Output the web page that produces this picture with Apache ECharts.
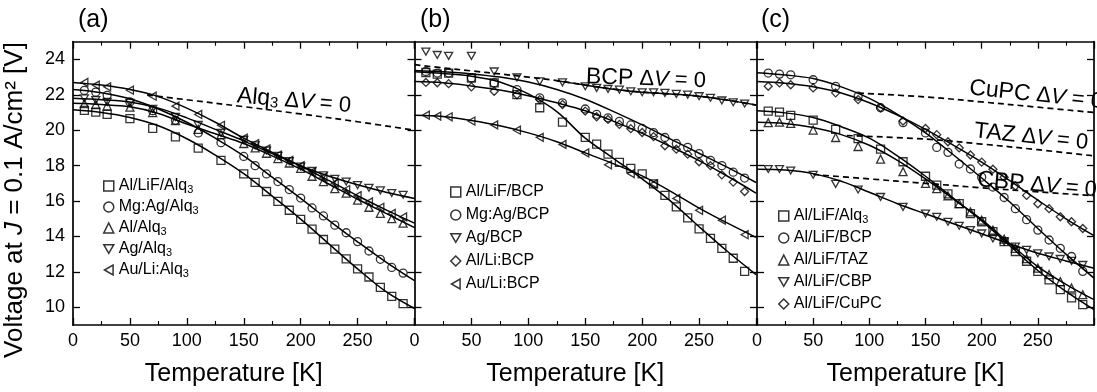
<!DOCTYPE html>
<html><head><meta charset="utf-8">
<script src="https://cdn.jsdelivr.net/npm/echarts@6/dist/echarts.min.js"></script>
<style>html,body{margin:0;padding:0;background:#fff}#c{width:1097px;height:392px}</style>
</head><body><div id="c"></div>
<script>
// ---------- data ----------
const X_TICKS = [0, 50, 100, 150, 200, 250];
const Y_TICKS = [10, 12, 14, 16, 18, 20, 22, 24];
const T_FIT = [0, 25, 50, 75, 100, 125, 150, 175, 200, 225, 250, 275, 300];
const T_PTS = [10, 20, 30, 50, 70, 90, 110, 130, 150, 160, 170, 180, 190, 200, 210, 220, 230, 240, 250, 260, 270, 280, 290];

// panel (a)
const A_NAMES = ['Al/LiF/Alq3', 'Mg:Ag/Alq3', 'Al/Alq3', 'Ag/Alq3', 'Au/Li:Alq3'];
const A_PTS_AlLiF = [21.12, 21.02, 20.89, 20.65, 20.11, 19.62, 18.99, 18.30, 17.53, 17.05, 16.54, 15.98, 15.48, 14.96, 14.41, 13.83, 13.29, 12.73, 12.17, 11.71, 11.13, 10.62, 10.21];
const A_FIT_AlLiF = [21.15, 21.0, 20.72, 20.25, 19.52, 18.6, 17.55, 16.28, 14.98, 13.57, 12.17, 10.88, 9.93];
const A_PTS_MgAg = [22.25, 22.15, 21.97, 21.6, 21.1, 20.56, 19.85, 19.3, 18.52, 18.0, 17.53, 17.1, 16.65, 16.17, 15.61, 15.16, 14.64, 14.21, 13.71, 13.18, 12.71, 12.25, 11.93];
const A_FIT_MgAg = [22.3, 22.12, 21.78, 21.2, 20.45, 19.55, 18.55, 17.35, 16.15, 14.9, 13.7, 12.55, 11.5];
const A_PTS_Al = [21.5, 21.45, 21.38, 21.3, 21.0, 20.55, 20.05, 19.75, 19.25, 19.0, 18.7, 18.4, 18.15, 17.85, 17.4, 17.1, 16.7, 16.45, 16.05, 15.65, 15.3, 15.01, 14.75];
const A_FIT_Al = [21.52, 21.45, 21.32, 20.95, 20.35, 19.8, 19.25, 18.55, 17.8, 16.95, 16.1, 15.3, 14.5];
const A_PTS_Ag = [21.8, 21.7, 21.6, 21.55, 21.2, 20.75, 20.3, 19.85, 19.45, 19.15, 18.85, 18.55, 18.25, 17.95, 17.7, 17.45, 17.25, 17.1, 16.9, 16.75, 16.6, 16.45, 16.35];
const A_FIT_Ag = [21.8, 21.72, 21.6, 21.25, 20.7, 20.05, 19.4, 18.68, 17.98, 17.4, 16.92, 16.5, 16.15];
const A_PTS_AuLi = [22.7, 22.55, 22.45, 22.26, 21.92, 21.36, 20.89, 20.28, 19.55, 19.25, 18.95, 18.6, 18.3, 18.0, 17.65, 17.35, 17.0, 16.65, 16.3, 15.95, 15.65, 15.3, 15.1];
const A_FIT_AuLi = [22.7, 22.55, 22.3, 21.9, 21.25, 20.45, 19.55, 18.75, 17.98, 17.15, 16.3, 15.5, 14.75];
const A_DASH_T = [65, 100, 150, 200, 250, 300];
const A_DASH_V = [22.0, 21.72, 21.33, 20.92, 20.48, 20.0];

// panel (b)
const B_NAMES = ['Al/LiF/BCP', 'Mg:Ag/BCP', 'Ag/BCP', 'Al/Li:BCP', 'Au/Li:BCP'];
const B_PTS_AlLiF = [23.26, 23.17, 23.23, 22.95, 22.67, 22.01, 21.27, 20.46, 19.6, 19.21, 18.65, 18.19, 17.85, 17.53, 16.97, 16.32, 15.67, 15.05, 14.43, 13.89, 13.33, 12.77, 12.03];
const B_FIT_AlLiF = [23.3, 23.2, 23.05, 22.72, 22.05, 21.05, 19.55, 18.4, 17.25, 16.0, 14.55, 13.15, 11.85];
const B_PTS_MgAg = [23.32, 23.23, 23.23, 22.95, 22.67, 22.29, 21.83, 21.55, 21.2, 20.9, 20.7, 20.5, 20.3, 20.1, 19.87, 19.59, 19.25, 19.03, 18.68, 18.3, 18.0, 17.63, 17.3];
const B_FIT_MgAg = [23.38, 23.3, 23.18, 23.0, 22.72, 22.3, 21.75, 21.05, 20.3, 19.5, 18.7, 17.9, 17.05];
const B_PTS_Ag = [24.44, 24.25, 24.2, 24.2, 23.32, 22.98, 22.76, 22.7, 22.48, 22.39, 22.33, 22.29, 22.2, 22.14, 22.14, 22.11, 22.05, 22.01, 21.92, 21.83, 21.68, 21.58, 21.51];
const B_FIT_Ag = [null, null, null, null, null, 22.8, 22.55, 22.32, 22.15, 22.05, 21.92, 21.7, 21.42];
const B_PTS_AlLi = [22.7, 22.68, 22.63, 22.45, 22.2, 22.0, 21.73, 21.45, 21.08, 20.76, 20.61, 20.33, 20.09, 19.87, 19.64, 19.12, 18.93, 18.65, 18.22, 18.0, 17.48, 17.07, 16.54];
const B_FIT_AlLi = [22.75, 22.68, 22.5, 22.27, 21.95, 21.55, 21.1, 20.5, 19.82, 19.08, 18.28, 17.4, 16.45];
const B_PTS_AuLi = [20.85, 20.8, 20.76, 20.52, 20.3, 20.0, 19.6, 19.2, 18.72, null, 18.05, null, 17.55, null, 16.97, null, 16.15, null, 15.48, null, 14.92, null, 14.1];
const B_FIT_AuLi = [20.85, 20.78, 20.55, 20.25, 19.85, 19.35, 18.72, 18.1, 17.42, 16.55, 15.6, 14.75, 13.95];
const B_DASH_T = [0, 25, 50, 75, 100, 125, 150, 175, 200, 225, 250, 275, 300];
const B_DASH_V = [23.7, 23.52, 23.35, 23.18, 23.0, 22.8, 22.55, 22.32, 22.15, 22.05, 21.92, 21.7, 21.42];

// panel (c)
const C_NAMES = ['Al/LiF/Alq3', 'Al/LiF/BCP', 'Al/LiF/TAZ', 'Al/LiF/CBP', 'Al/LiF/CuPC'];
const C_PTS_Alq = [21.08, 21.02, 20.84, 20.57, 20.05, 19.53, 18.93, 18.22, 17.4, 16.9, 16.41, 15.85, 15.29, 14.83, 14.27, 13.71, 13.15, 12.6, 12.03, 11.55, 11.0, 10.53, 10.15];
const C_FIT_Alq = [21.1, 20.98, 20.72, 20.2, 19.55, 18.55, 17.4, 16.15, 14.88, 13.48, 12.08, 10.9, 9.87];
const C_PTS_BCP = [23.23, 23.17, 23.13, 22.85, 22.48, 21.92, 21.27, 20.43, 19.85, 19.03, 18.75, 18.09, 17.81, 17.35, 16.79, 16.2, 15.57, 14.95, 14.36, 13.8, 13.33, 12.87, 12.03];
const C_FIT_BCP = [23.25, 23.12, 22.92, 22.45, 21.8, 20.9, 19.85, 18.6, 17.3, 15.95, 14.45, 13.0, 11.65];
const C_PTS_TAZ = [20.43, 20.46, 20.39, 20.01, 19.59, 19.08, 18.37, 17.66, 17.0, 16.7, 16.3, 15.85, 15.39, 14.92, 14.36, 13.85, 13.33, 12.75, 12.21, 11.85, 11.45, 11.09, 10.71];
const C_FIT_TAZ = [20.45, 20.38, 20.15, 19.75, 19.15, 18.3, 17.25, 16.1, 14.95, 13.6, 12.3, 11.3, 10.43];
const C_PTS_CBP = [17.81, 17.81, 17.72, 17.48, 16.97, 16.65, 16.23, 15.67, 15.29, 15.11, 14.83, 14.6, 14.36, 14.17, 13.89, 13.71, 13.43, 13.24, 13.05, 12.87, 12.73, 12.62, 12.39];
const C_FIT_CBP = [17.8, 17.75, 17.55, 17.12, 16.5, 15.85, 15.28, 14.72, 14.15, 13.58, 13.05, 12.62, 12.2];
const C_PTS_CuPC = [22.48, 22.67, 22.57, 22.39, 22.11, 21.73, 21.27, 20.52, 20.1, 19.75, 19.35, 19.0, 18.6, 18.2, 17.8, 17.35, 16.85, 16.32, 15.85, 15.57, 15.11, 14.83, 14.45];
const C_FIT_CuPC = [22.75, 22.65, 22.45, 22.1, 21.55, 20.85, 20.05, 19.15, 18.2, 17.15, 16.05, 15.0, 14.05];
const C_DASH_CuPC_T = [90, 150, 200, 250, 300];
const C_DASH_CuPC_V = [22.1, 21.88, 21.6, 21.3, 21.0];
const C_DASH_TAZ_T = [80, 150, 200, 250, 300];
const C_DASH_TAZ_V = [19.7, 19.5, 19.22, 18.9, 18.55];
const C_DASH_CBP_T = [50, 100, 150, 200, 250, 300];
const C_DASH_CBP_V = [17.5, 17.25, 17.0, 16.75, 16.52, 16.3];

// ---------- styling / building ----------
const FONT = 'Liberation Sans, Arial, Helvetica, sans-serif';
const ZW = '\u200b'; // keeps legend names unique between panels
const SYM = {
  sq: 'rect', ci: 'circle', up: 'triangle', di: 'diamond',
  dn: 'path://M0,0L2,0L1,1.732Z',
  lt: 'path://M1.732,0L1.732,2L0,1Z'
};
const MARK_STYLE = { color: 'rgba(255,255,255,0)', borderColor: '#000', borderWidth: 1.3 };

function zip(ts, vs) { return ts.map((t, i) => [t, vs[i]]).filter(d => d[1] != null); }
function scat(name, sym, xi, yi, vals) {
  return { type: 'scatter', name, xAxisIndex: xi, yAxisIndex: yi, symbol: sym, symbolSize: 8,
    symbolKeepAspect: true, itemStyle: MARK_STYLE, data: zip(T_PTS, vals), z: 3, silent: true };
}
function fitLine(xi, yi, ts, vals, dashed) {
  return { type: 'line', xAxisIndex: xi, yAxisIndex: yi, data: zip(ts, vals), smooth: 0.35,
    showSymbol: false, silent: true, z: 2,
    lineStyle: { color: '#000', width: dashed ? 1.7 : 1.5, type: dashed ? [6, 4] : 'solid' } };
}
const CN = C_NAMES.map(n => n + ZW);

const series = [
  // (a)
  fitLine(0, 0, A_DASH_T, A_DASH_V, true),
  fitLine(0, 0, T_FIT, A_FIT_AlLiF), fitLine(0, 0, T_FIT, A_FIT_MgAg), fitLine(0, 0, T_FIT, A_FIT_Al),
  fitLine(0, 0, T_FIT, A_FIT_Ag), fitLine(0, 0, T_FIT, A_FIT_AuLi),
  scat(A_NAMES[0], SYM.sq, 0, 0, A_PTS_AlLiF), scat(A_NAMES[1], SYM.ci, 0, 0, A_PTS_MgAg),
  scat(A_NAMES[2], SYM.up, 0, 0, A_PTS_Al), scat(A_NAMES[3], SYM.dn, 0, 0, A_PTS_Ag),
  scat(A_NAMES[4], SYM.lt, 0, 0, A_PTS_AuLi),
  // (b)
  fitLine(2, 1, B_DASH_T, B_DASH_V, true),
  fitLine(2, 1, T_FIT, B_FIT_AlLiF), fitLine(2, 1, T_FIT, B_FIT_MgAg), fitLine(2, 1, T_FIT, B_FIT_Ag),
  fitLine(2, 1, T_FIT, B_FIT_AlLi), fitLine(2, 1, T_FIT, B_FIT_AuLi),
  scat(B_NAMES[0], SYM.sq, 2, 1, B_PTS_AlLiF), scat(B_NAMES[1], SYM.ci, 2, 1, B_PTS_MgAg),
  scat(B_NAMES[2], SYM.dn, 2, 1, B_PTS_Ag), scat(B_NAMES[3], SYM.di, 2, 1, B_PTS_AlLi),
  scat(B_NAMES[4], SYM.lt, 2, 1, B_PTS_AuLi),
  // (c)
  fitLine(4, 3, C_DASH_CuPC_T, C_DASH_CuPC_V, true), fitLine(4, 3, C_DASH_TAZ_T, C_DASH_TAZ_V, true),
  fitLine(4, 3, C_DASH_CBP_T, C_DASH_CBP_V, true),
  fitLine(4, 3, T_FIT, C_FIT_Alq), fitLine(4, 3, T_FIT, C_FIT_BCP), fitLine(4, 3, T_FIT, C_FIT_TAZ),
  fitLine(4, 3, T_FIT, C_FIT_CBP), fitLine(4, 3, T_FIT, C_FIT_CuPC),
  scat(CN[0], SYM.sq, 4, 3, C_PTS_Alq), scat(CN[1], SYM.ci, 4, 3, C_PTS_BCP),
  scat(CN[2], SYM.up, 4, 3, C_PTS_TAZ), scat(CN[3], SYM.dn, 4, 3, C_PTS_CBP),
  scat(CN[4], SYM.di, 4, 3, C_PTS_CuPC)
];

const GRID_TOP = 41.7, GRID_H = 284.8, GRID_W = 341.5;
const grids = [73, 414.5, 757].map(l => ({ left: l, top: GRID_TOP, width: GRID_W, height: GRID_H }));

const AXIS_LINE = { show: true, onZero: false, lineStyle: { color: '#000', width: 1.7 } };
function xAx(gi, pos, labels) {
  return {
    type: 'value', gridIndex: gi, position: pos, min: 0, max: 300, interval: 50,
    axisLine: AXIS_LINE, splitLine: { show: false },
    axisTick: { show: true, inside: true, length: 7, lineStyle: { color: '#000', width: 1.3 } },
    minorTick: { show: true, splitNumber: 2, length: 4, lineStyle: { color: '#000', width: 1.1 } },
    axisLabel: { show: labels, margin: 7, color: '#000', fontSize: 18, fontFamily: FONT,
      formatter: v => (X_TICKS.indexOf(v) >= 0 ? String(v) : '') },
    name: labels ? 'Temperature [K]' : '', nameLocation: 'middle', nameGap: 37,
    nameTextStyle: { fontSize: 25, fontFamily: FONT, color: '#000', padding: [0, 20, 0, 0] }
  };
}
function yAx(gi, pos, inside, labels, lineShow) {
  return {
    type: 'value', gridIndex: gi, position: pos, min: 9, max: 25,
    axisLine: Object.assign({}, AXIS_LINE, { show: lineShow }), splitLine: { show: false },
    axisTick: { show: true, inside: inside, length: 7, customValues: Y_TICKS, lineStyle: { color: '#000', width: 1.3 } },
    axisLabel: { show: labels, customValues: Y_TICKS, margin: 8, color: '#000', fontSize: 18, fontFamily: FONT }
  };
}

const xAxis = [xAx(0, 'bottom', true), xAx(0, 'top', false), xAx(1, 'bottom', true), xAx(1, 'top', false),
  xAx(2, 'bottom', true), xAx(2, 'top', false)];
const yAxis = [yAx(0, 'left', true, true, true), yAx(1, 'left', true, false, true), yAx(1, 'left', false, false, false),
  yAx(2, 'left', true, false, true), yAx(2, 'left', false, false, false), yAx(2, 'right', true, false, true)];

const LEG_TEXT = { fontSize: 16, fontFamily: FONT, color: '#000', lineHeight: 18,
  rich: { s: { fontSize: 11, fontFamily: FONT, color: '#000', lineHeight: 6, verticalAlign: 'bottom' } } };
const LEG_ITEM = { color: 'rgba(255,255,255,0)', borderColor: '#000', borderWidth: 1.5 };
function legend(names, left, top, gap) {
  return { data: names, orient: 'vertical', left, top, itemGap: gap, itemWidth: 10, itemHeight: 10,
    selectedMode: false, itemStyle: LEG_ITEM, textStyle: LEG_TEXT,
    formatter: n => n.replace(ZW, '').replace('Alq3', 'Alq{s|3}') };
}

function lbl(x, y, rotDeg, parts) {
  return { type: 'text', x, y, rotation: rotDeg * Math.PI / 180, silent: true, z: 10,
    style: { text: parts, align: 'center', verticalAlign: 'middle', fill: '#000', font: '22px ' + FONT,
      rich: {
        b: { fontSize: 23, fontFamily: FONT, fill: '#000' },
        s: { fontSize: 15, fontFamily: FONT, fill: '#000', lineHeight: 8, verticalAlign: 'bottom' },
        i: { fontSize: 22, fontFamily: FONT, fontStyle: 'italic', fill: '#000' },
        n: { fontSize: 22, fontFamily: FONT, fill: '#000' }
      } } };
}

const option = {
  animation: false,
  backgroundColor: '#fff',
  grid: grids, xAxis, yAxis, series,
  legend: [legend(A_NAMES, 98, 172, 3), legend(B_NAMES, 445, 178, 5), legend(CN, 773, 202, 4)],
  graphic: [
    { type: 'text', left: 78, top: 8, style: { text: '(a)', font: '25px ' + FONT, fill: '#000' } },
    { type: 'text', left: 420, top: 8, style: { text: '(b)', font: '25px ' + FONT, fill: '#000' } },
    { type: 'text', left: 761, top: 8, style: { text: '(c)', font: '25px ' + FONT, fill: '#000' } },
    { type: 'text', x: 15, y: 200, rotation: Math.PI / 2, silent: true,
      style: { text: 'Voltage at {i|J} = 0.1 A/cm² [V]', align: 'center', verticalAlign: 'middle',
        fill: '#000', font: '26px ' + FONT,
        rich: { i: { fontSize: 26, fontFamily: FONT, fontStyle: 'italic', fill: '#000' } } } },
    lbl(294, 101, -5, '{b|Alq}{s|3} {n|Δ}{i|V}{n| = 0}'),
    lbl(646, 79, -2, '{b|BCP} {n|Δ}{i|V}{n| = 0}'),
    lbl(1036, 95, -6, '{b|CuPC} {n|Δ}{i|V}{n| = 0}'),
    lbl(1031, 137, -6, '{b|TAZ} {n|Δ}{i|V}{n| = 0}'),
    lbl(1037, 185, -5, '{b|CBP} {n|Δ}{i|V}{n| = 0}')
  ]
};
echarts.init(document.getElementById('c')).setOption(option);
</script></body></html>
